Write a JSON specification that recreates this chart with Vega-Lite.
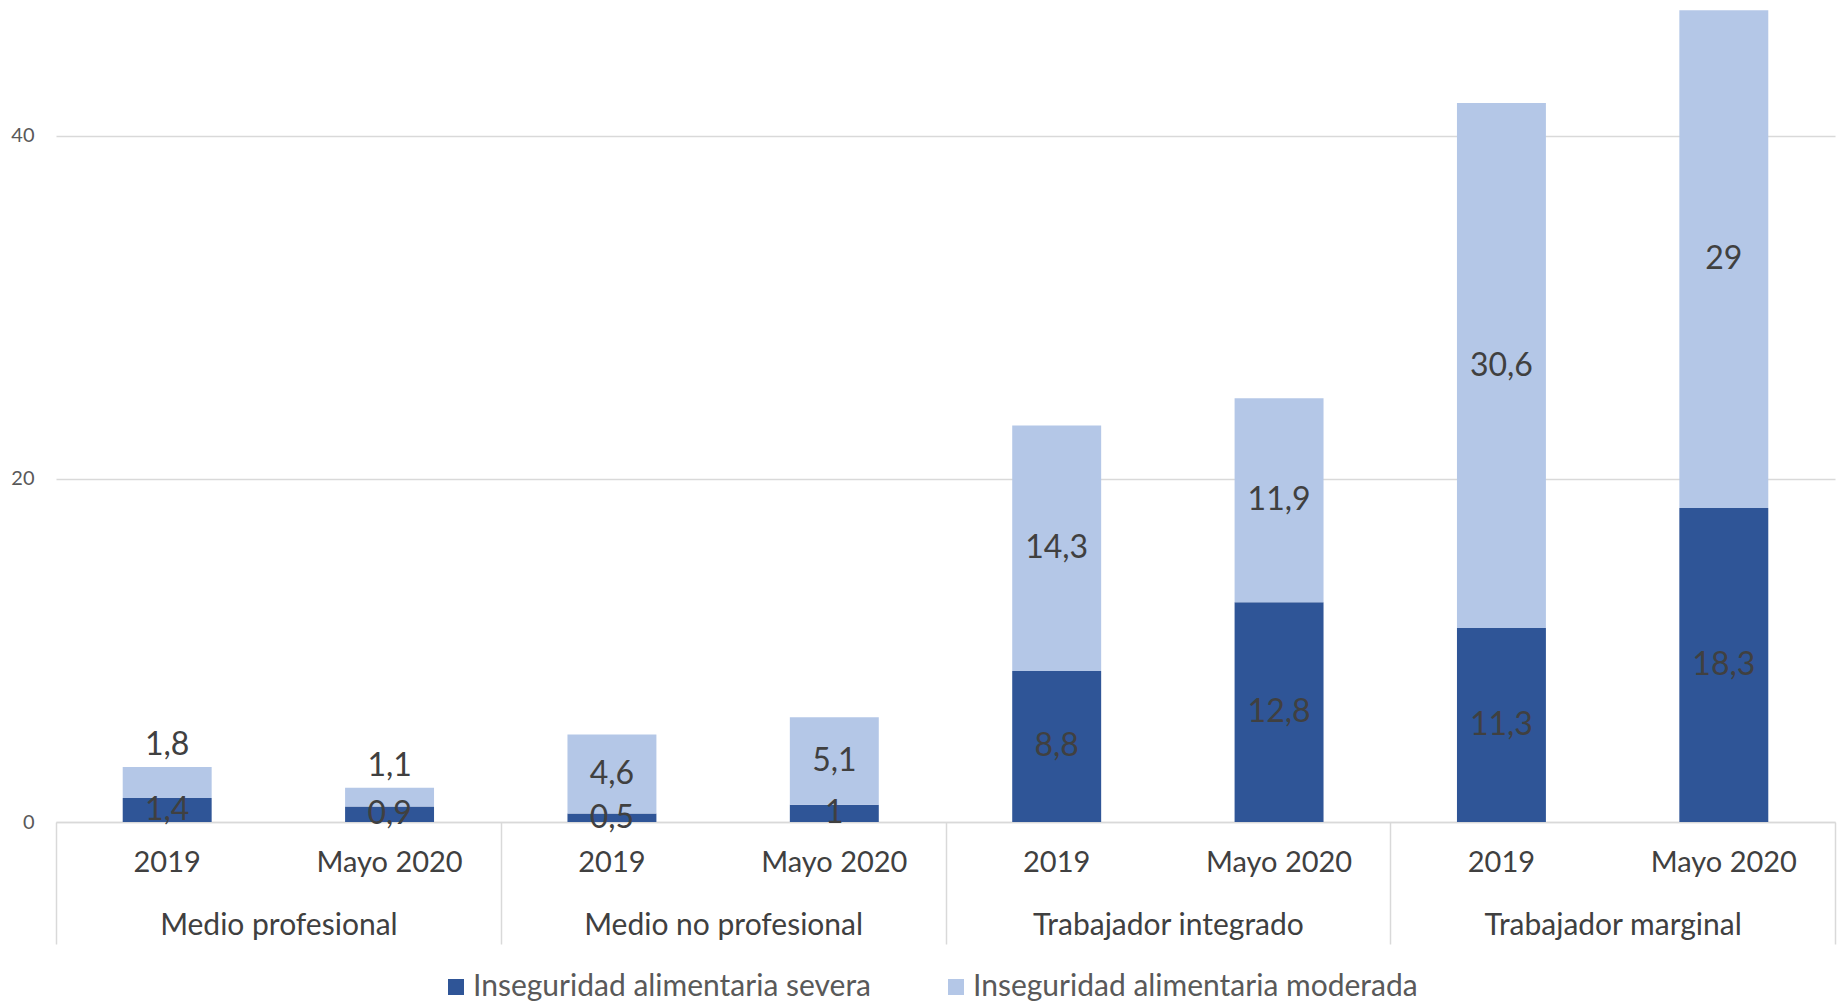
{
  "$schema": "https://vega.github.io/schema/vega-lite/v6.json",
  "width": 1779,
  "height": 822,
  "autosize": {"type": "none"},
  "padding": {"left": 56, "top": 0, "right": 4, "bottom": 180},
  "config": {
    "locale": {"number": {"decimal": ",", "thousands": ".", "grouping": [3], "currency": ["", ""]}},
    "view": {"stroke": null},
    "font": "Lato"
  },
  "data": {
    "values": [
      {"group": "Medio profesional", "period": "2019", "type": "Inseguridad alimentaria severa", "value": 1.4},
      {"group": "Medio profesional", "period": "2019", "type": "Inseguridad alimentaria moderada", "value": 1.8},
      {"group": "Medio profesional", "period": "Mayo 2020", "type": "Inseguridad alimentaria severa", "value": 0.9},
      {"group": "Medio profesional", "period": "Mayo 2020", "type": "Inseguridad alimentaria moderada", "value": 1.1},
      {"group": "Medio no profesional", "period": "2019", "type": "Inseguridad alimentaria severa", "value": 0.5},
      {"group": "Medio no profesional", "period": "2019", "type": "Inseguridad alimentaria moderada", "value": 4.6},
      {"group": "Medio no profesional", "period": "Mayo 2020", "type": "Inseguridad alimentaria severa", "value": 1},
      {"group": "Medio no profesional", "period": "Mayo 2020", "type": "Inseguridad alimentaria moderada", "value": 5.1},
      {"group": "Trabajador integrado", "period": "2019", "type": "Inseguridad alimentaria severa", "value": 8.8},
      {"group": "Trabajador integrado", "period": "2019", "type": "Inseguridad alimentaria moderada", "value": 14.3},
      {"group": "Trabajador integrado", "period": "Mayo 2020", "type": "Inseguridad alimentaria severa", "value": 12.8},
      {"group": "Trabajador integrado", "period": "Mayo 2020", "type": "Inseguridad alimentaria moderada", "value": 11.9},
      {"group": "Trabajador marginal", "period": "2019", "type": "Inseguridad alimentaria severa", "value": 11.3},
      {"group": "Trabajador marginal", "period": "2019", "type": "Inseguridad alimentaria moderada", "value": 30.6},
      {"group": "Trabajador marginal", "period": "Mayo 2020", "type": "Inseguridad alimentaria severa", "value": 18.3},
      {"group": "Trabajador marginal", "period": "Mayo 2020", "type": "Inseguridad alimentaria moderada", "value": 29}
    ]
  },
  "encoding": {
    "x": {
      "field": "group", "type": "nominal",
      "sort": ["Medio profesional", "Medio no profesional", "Trabajador integrado", "Trabajador marginal"],
      "scale": {"paddingInner": 0, "paddingOuter": 0},
      "axis": {
        "title": null, "labelAngle": 0, "labelFontSize": 30, "labelColor": "#404040", "labelLimit": 600,
        "labelBaseline": "middle", "labelPadding": -19,
        "domainColor": "#d9d9d9", "domainWidth": 1.5,
        "ticks": true, "tickBand": "extent", "tickSize": 122, "tickColor": "#d9d9d9", "tickWidth": 1.5
      }
    },
    "xOffset": {
      "field": "period", "type": "nominal", "sort": ["2019", "Mayo 2020"],
      "scale": {"paddingInner": 0.6, "paddingOuter": 0.3}
    }
  },
  "layer": [
    {
      "mark": {"type": "bar"},
      "encoding": {
        "y": {
          "field": "value", "type": "quantitative", "stack": "zero",
          "scale": {"domain": [0, 47.9], "nice": false},
          "axis": {
            "title": null, "values": [0, 20, 40], "grid": true, "gridColor": "#d9d9d9", "gridWidth": 1.5,
            "domain": false, "ticks": false, "labelFontSize": 20, "labelColor": "#595959", "labelPadding": 22
          }
        },
        "color": {
          "field": "type", "type": "nominal",
          "sort": ["Inseguridad alimentaria severa", "Inseguridad alimentaria moderada"],
          "scale": {"domain": ["Inseguridad alimentaria severa", "Inseguridad alimentaria moderada"], "range": ["#2F5597", "#B4C7E7"]},
          "legend": {
            "title": null, "orient": "none", "direction": "horizontal",
            "legendX": 385, "legendY": 972, "padding": 0,
            "labelFontSize": 30, "labelColor": "#595959", "labelOffset": 2,
            "symbolType": "square", "symbolSize": 256, "symbolStrokeWidth": 0,
            "columnPadding": 70, "labelLimit": 600
          }
        },
        "order": {"field": "type", "sort": "descending"}
      }
    },
    {
      "transform": [
        {"stack": "value", "groupby": ["group", "period"], "sort": [{"field": "type", "order": "descending"}], "as": ["y0", "y1"]},
        {"filter": "!(datum.type == 'Inseguridad alimentaria moderada' && datum.value < 2)"},
        {"calculate": "(datum.y0 + datum.y1) / 2", "as": "ymid"}
      ],
      "mark": {"type": "text", "fontSize": 32, "color": "#404040", "baseline": "middle"},
      "encoding": {
        "y": {"field": "ymid", "type": "quantitative"},
        "text": {"field": "value", "type": "quantitative", "format": ".1~f"}
      }
    },
    {
      "transform": [
        {"stack": "value", "groupby": ["group", "period"], "sort": [{"field": "type", "order": "descending"}], "as": ["y0", "y1"]},
        {"filter": "datum.type == 'Inseguridad alimentaria moderada' && datum.value < 2"}
      ],
      "mark": {"type": "text", "fontSize": 32, "color": "#404040", "baseline": "middle", "dy": -22},
      "encoding": {
        "y": {"field": "y1", "type": "quantitative"},
        "text": {"field": "value", "type": "quantitative", "format": ".1~f"}
      }
    },
    {
      "transform": [{"filter": "datum.type == 'Inseguridad alimentaria severa'"}],
      "mark": {"type": "text", "fontSize": 29, "color": "#404040", "baseline": "middle", "dy": 41},
      "encoding": {
        "y": {"datum": 0, "type": "quantitative"},
        "text": {"field": "period", "type": "nominal"}
      }
    }
  ]
}
